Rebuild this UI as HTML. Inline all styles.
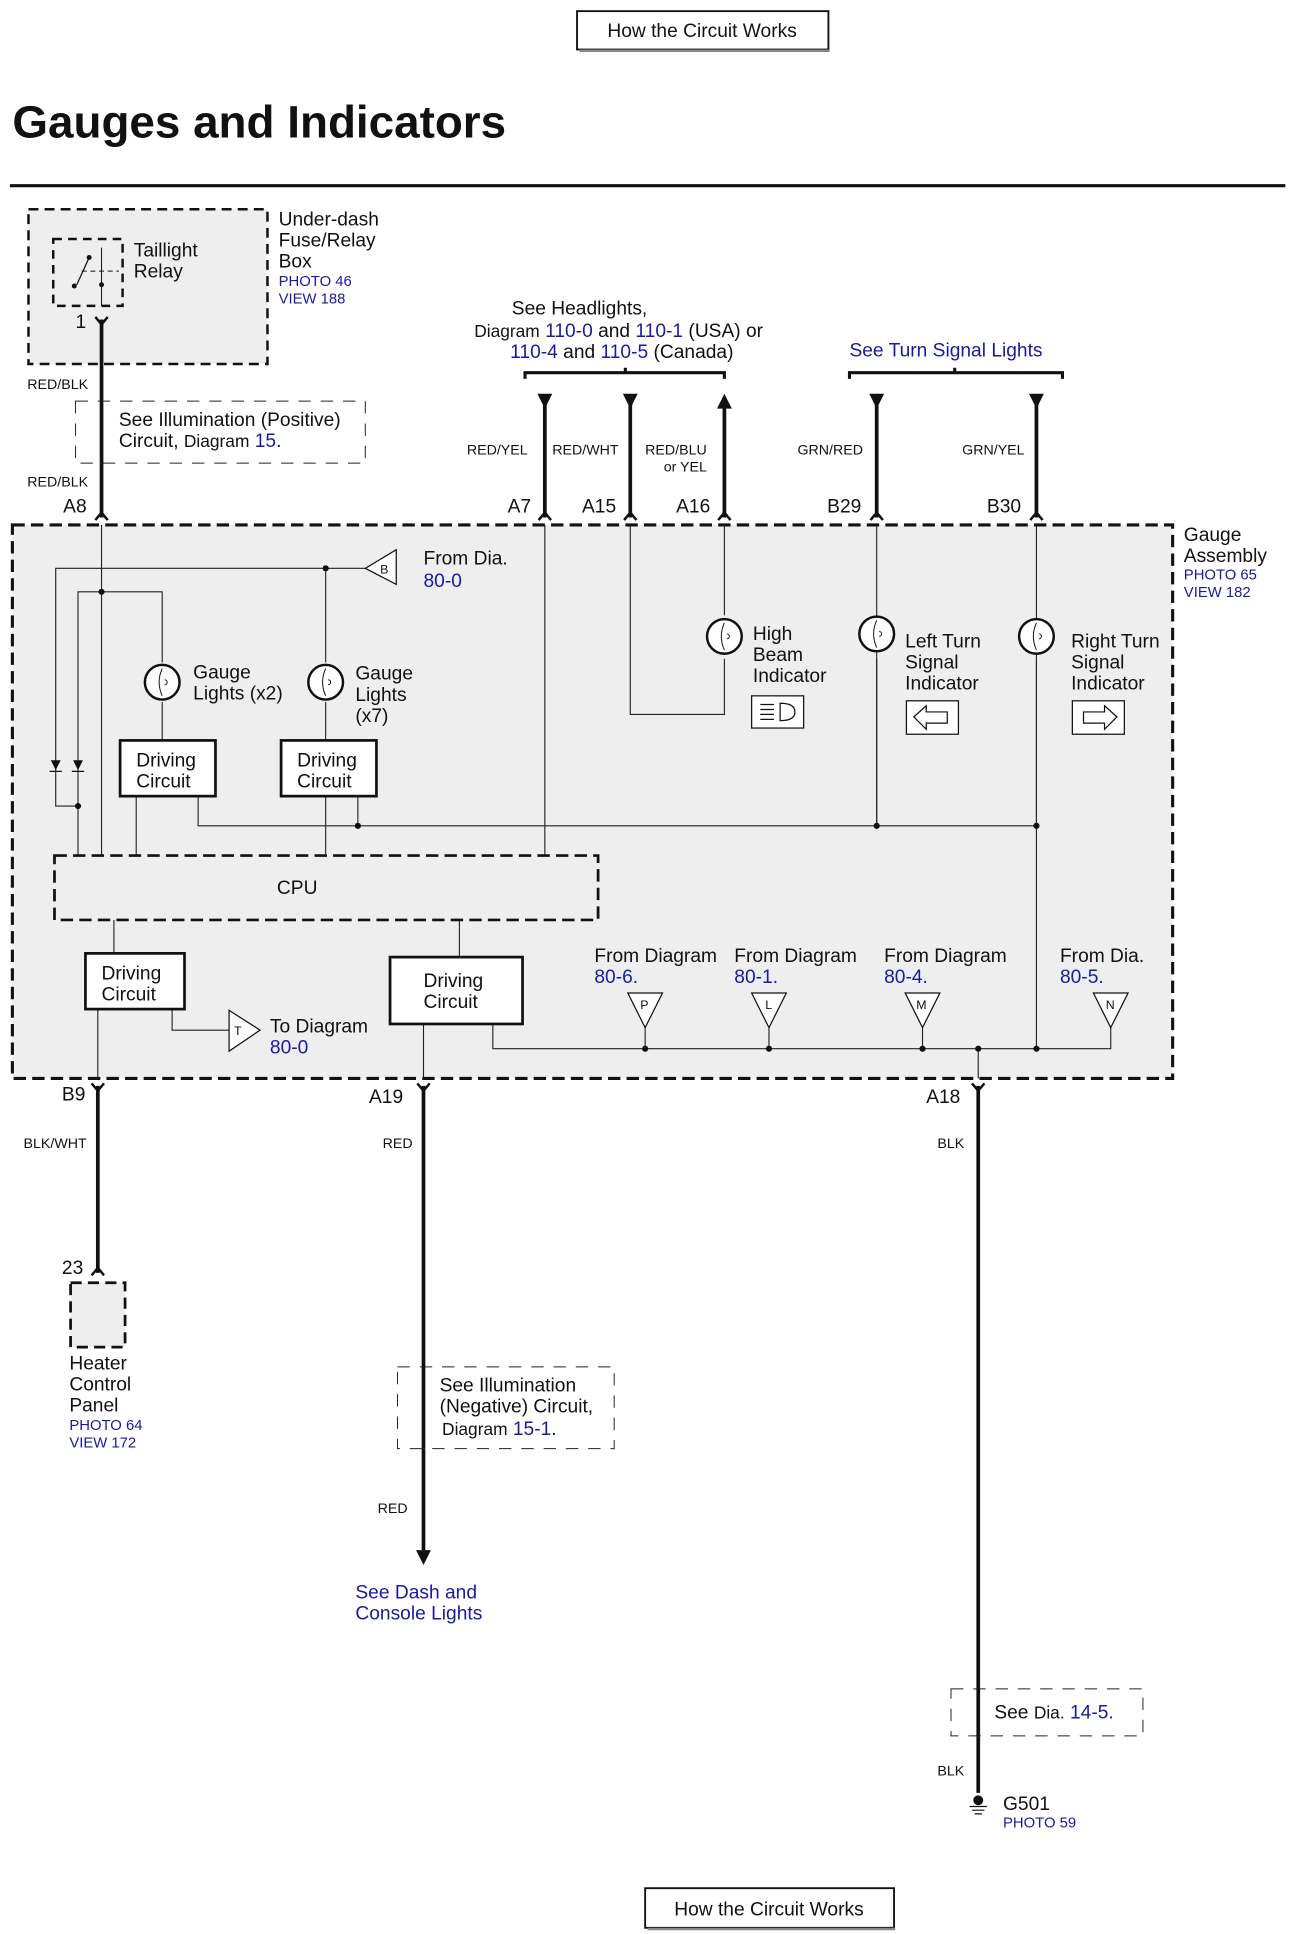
<!DOCTYPE html>
<html><head><meta charset="utf-8"><style>
html,body{margin:0;padding:0;background:#fff;}
svg{display:block;}
text{font-family:"Liberation Sans",Arial,sans-serif;fill:#111;}
.b{fill:#1a1aa0;}
.s{font-size:12px;}
.m{font-size:15.5px;}
.w{font-size:11.5px;}
</style></head><body>
<svg width="1294" height="1934" viewBox="0 0 1045 1562" preserveAspectRatio="none" xmlns="http://www.w3.org/2000/svg">
<!-- top button -->
<rect x="466" y="9" width="203" height="31" fill="#fff" stroke="#111" stroke-width="1.5"/>
<line x1="468" y1="41" x2="670" y2="41" stroke="#888" stroke-width="2"/>
<text x="567" y="30" class="m" text-anchor="middle">How the Circuit Works</text>
<!-- title -->
<text x="10" y="111" style="font-size:37px;font-weight:bold">Gauges and Indicators</text>
<line x1="8" y1="150" x2="1038" y2="150" stroke="#111" stroke-width="2.5"/>

<!-- fuse box -->
<rect x="23" y="169" width="193" height="125" fill="#eee" stroke="#111" stroke-width="2" stroke-dasharray="8,5"/>
<rect x="43" y="193" width="56" height="54" fill="none" stroke="#111" stroke-width="2" stroke-dasharray="7,5"/>
<line x1="82" y1="200" x2="82" y2="247" stroke="#111" stroke-width="0.8"/>
<line x1="72" y1="208" x2="62" y2="230" stroke="#111" stroke-width="1"/>
<circle cx="72" cy="208" r="2" fill="#111"/><circle cx="60" cy="231" r="2" fill="#111"/><circle cx="82" cy="230" r="2" fill="#111"/>
<line x1="66" y1="219" x2="96" y2="219" stroke="#111" stroke-width="0.8" stroke-dasharray="4,3"/>
<text x="108" y="207" class="m">Taillight</text><text x="108" y="224" class="m">Relay</text>
<text x="225" y="182" class="m">Under-dash</text><text x="225" y="199" class="m">Fuse/Relay</text><text x="225" y="216" class="m">Box</text>
<text x="225" y="231" class="s b">PHOTO 46</text><text x="225" y="245" class="s b">VIEW 188</text>
<text x="61" y="265" class="m">1</text>
<path d="M77,256 L82,262 L87,256" fill="none" stroke="#111" stroke-width="2"/>
<line x1="82" y1="258" x2="82" y2="418" stroke="#111" stroke-width="3"/>
<text x="22" y="314" class="w">RED/BLK</text>
<rect x="61" y="324" width="234" height="50" fill="#fff" stroke="#222" stroke-width="0.8" stroke-dasharray="10,8"/>
<line x1="82" y1="324" x2="82" y2="374" stroke="#111" stroke-width="3"/>
<text x="96" y="344" class="m">See Illumination (Positive)</text>
<text x="96" y="361" class="m">Circuit, <tspan style="font-size:14px">Diagram</tspan> <tspan class="b">15</tspan>.</text>
<text x="22" y="393" class="w">RED/BLK</text>
<text x="51" y="414" class="m">A8</text>
<path d="M77,420 L82,414 L87,420" fill="none" stroke="#111" stroke-width="2"/>

<!-- headlights text -->
<text x="468" y="254" class="m" text-anchor="middle">See Headlights,</text>
<text x="383" y="272" class="m"><tspan style="font-size:14px">Diagram</tspan> <tspan class="b">110-0</tspan> and <tspan class="b">110-1</tspan> (USA) or</text>
<text x="412" y="289" class="m"><tspan class="b">110-4</tspan> and <tspan class="b">110-5</tspan> (Canada)</text>
<path d="M424,306 L424,301 L585,301 L585,306 M505,301 L505,297" fill="none" stroke="#111" stroke-width="2.5"/>
<text x="686" y="288" class="m b">See Turn Signal Lights</text>
<path d="M686,306 L686,301 L858,301 L858,306 M771,301 L771,297" fill="none" stroke="#111" stroke-width="2.5"/>

<!-- top wires -->
<g stroke="#111" stroke-width="3">
<line x1="440" y1="325" x2="440" y2="418"/><line x1="509" y1="325" x2="509" y2="418"/><line x1="585" y1="328" x2="585" y2="418"/>
<line x1="708" y1="325" x2="708" y2="418"/><line x1="837" y1="325" x2="837" y2="418"/>
</g>
<g fill="#111">
<path d="M434,318 L446,318 L440,330z"/><path d="M503,318 L515,318 L509,330z"/><path d="M579,330 L591,330 L585,318z"/>
<path d="M702,318 L714,318 L708,330z"/><path d="M831,318 L843,318 L837,330z"/>
</g>
<text x="377" y="367" class="w">RED/YEL</text><text x="446" y="367" class="w">RED/WHT</text>
<text x="521" y="367" class="w">RED/BLU</text><text x="536" y="381" class="w">or YEL</text>
<text x="644" y="367" class="w">GRN/RED</text><text x="777" y="367" class="w">GRN/YEL</text>
<text x="410" y="414" class="m">A7</text><text x="470" y="414" class="m">A15</text><text x="546" y="414" class="m">A16</text>
<text x="668" y="414" class="m">B29</text><text x="797" y="414" class="m">B30</text>
<g fill="none" stroke="#111" stroke-width="2">
<path d="M435,420 L440,414 L445,420"/><path d="M504,420 L509,414 L514,420"/><path d="M580,420 L585,414 L590,420"/>
<path d="M703,420 L708,414 L713,420"/><path d="M832,420 L837,414 L842,420"/>
</g>

<!-- gauge assembly -->
<rect x="10" y="424" width="937" height="447" fill="#eee" stroke="#111" stroke-width="2.5" stroke-dasharray="10,5"/>
<text x="956" y="437" class="m">Gauge</text><text x="956" y="454" class="m">Assembly</text>
<text x="956" y="468" class="s b">PHOTO 65</text><text x="956" y="482" class="s b">VIEW 182</text>

<g stroke="#222" stroke-width="0.9" fill="none">
<line x1="82" y1="424" x2="82" y2="691"/>
<line x1="440" y1="424" x2="440" y2="691"/>
<path d="M509,424 L509,577 L585,577 L585,532"/>
<line x1="585" y1="424" x2="585" y2="497"/>
<line x1="708" y1="424" x2="708" y2="667"/>
<line x1="837" y1="424" x2="837" y2="847"/>
<path d="M295,459 L45,459 L45,651 L63,651"/>
<line x1="263" y1="459" x2="263" y2="535"/>
<path d="M63,691 L63,478 L131,478 L131,535"/>
<line x1="131" y1="567" x2="131" y2="598"/>
<line x1="263" y1="567" x2="263" y2="598"/>
<line x1="110" y1="643" x2="110" y2="691"/>
<line x1="263" y1="643" x2="263" y2="691"/>
<path d="M160,643 L160,667 L837,667"/>
<line x1="289" y1="643" x2="289" y2="667"/>
<line x1="708" y1="532" x2="708" y2="667"/>
<line x1="837" y1="532" x2="837" y2="667"/>
<line x1="92" y1="743" x2="92" y2="770"/>
<line x1="371" y1="743" x2="371" y2="773"/>
<line x1="79" y1="815" x2="79" y2="871"/>
<path d="M139,815 L139,832 L185,832"/>
<line x1="342" y1="827" x2="342" y2="871"/>
<path d="M398,827 L398,847 L897,847 L897,830"/>
<line x1="521" y1="830" x2="521" y2="847"/><line x1="621" y1="830" x2="621" y2="847"/><line x1="745" y1="830" x2="745" y2="847"/>
<line x1="790" y1="847" x2="790" y2="871"/>
</g>
<g fill="#111">
<circle cx="263" cy="459" r="2.5"/><circle cx="82" cy="478" r="2.5"/><circle cx="63" cy="651" r="2.5"/>
<circle cx="289" cy="667" r="2.5"/><circle cx="708" cy="667" r="2.5"/><circle cx="837" cy="667" r="2.5"/>
<circle cx="521" cy="847" r="2.5"/><circle cx="621" cy="847" r="2.5"/><circle cx="745" cy="847" r="2.5"/><circle cx="790" cy="847" r="2.5"/><circle cx="837" cy="847" r="2.5"/>
<path d="M41,614 L49,614 L45,622z"/><path d="M59,614 L67,614 L63,622z"/>
</g>
<line x1="40" y1="623" x2="50" y2="623" stroke="#111"/><line x1="58" y1="623" x2="68" y2="623" stroke="#111"/>
<path d="M320,444 L320,472 L295,459z" fill="#fff" stroke="#111"/>
<text x="307" y="463" style="font-size:10px">B</text>
<text x="342" y="456" class="m">From Dia.</text><text x="342" y="474" class="m b">80-0</text>
<g fill="#fff" stroke="#111" stroke-width="2">
<circle cx="131" cy="551" r="14"/><circle cx="263" cy="551" r="14"/>
<circle cx="585" cy="514" r="14"/><circle cx="708" cy="512" r="14"/><circle cx="837" cy="514" r="14"/>
</g>
<g fill="none" stroke="#111" stroke-width="0.8">
<path d="M131,540 q-5,11 0,22 M133,549 a2,2 0 1 1 0,4"/><path d="M263,540 q-5,11 0,22 M265,549 a2,2 0 1 1 0,4"/>
<path d="M585,503 q-5,11 0,22 M587,512 a2,2 0 1 1 0,4"/><path d="M708,501 q-5,11 0,22 M710,510 a2,2 0 1 1 0,4"/><path d="M837,503 q-5,11 0,22 M839,512 a2,2 0 1 1 0,4"/>
</g>
<text x="156" y="548" class="m">Gauge</text><text x="156" y="565" class="m">Lights (x2)</text>
<text x="287" y="549" class="m">Gauge</text><text x="287" y="566" class="m">Lights</text><text x="287" y="583" class="m">(x7)</text>
<text x="608" y="517" class="m">High</text><text x="608" y="534" class="m">Beam</text><text x="608" y="551" class="m">Indicator</text>
<text x="731" y="523" class="m">Left Turn</text><text x="731" y="540" class="m">Signal</text><text x="731" y="557" class="m">Indicator</text>
<text x="865" y="523" class="m">Right Turn</text><text x="865" y="540" class="m">Signal</text><text x="865" y="557" class="m">Indicator</text>
<rect x="607" y="562" width="42" height="26" fill="#fff" stroke="#111"/>
<path d="M630,568 q12,0 12,7 q0,7 -12,7 z M614,569 h11 M614,573 h11 M614,577 h11 M614,581 h11" fill="none" stroke="#111"/>
<rect x="732" y="566" width="42" height="27" fill="#fff" stroke="#111"/>
<path d="M738,579 L748,570 L748,575 L765,575 L765,584 L748,584 L748,589z" fill="#fff" stroke="#111"/>
<rect x="866" y="566" width="42" height="27" fill="#fff" stroke="#111"/>
<path d="M902,579 L892,570 L892,575 L875,575 L875,584 L892,584 L892,589z" fill="#fff" stroke="#111"/>
<g fill="#fff" stroke="#111" stroke-width="2.2">
<rect x="97" y="598" width="77" height="45"/><rect x="227" y="598" width="77" height="45"/>
<rect x="69" y="770" width="80" height="45"/><rect x="315" y="773" width="107" height="54"/>
</g>
<text x="110" y="619" class="m">Driving</text><text x="110" y="636" class="m">Circuit</text>
<text x="240" y="619" class="m">Driving</text><text x="240" y="636" class="m">Circuit</text>
<text x="82" y="791" class="m">Driving</text><text x="82" y="808" class="m">Circuit</text>
<text x="342" y="797" class="m">Driving</text><text x="342" y="814" class="m">Circuit</text>
<rect x="44" y="691" width="439" height="52" fill="none" stroke="#111" stroke-width="2.2" stroke-dasharray="10,5"/>
<text x="240" y="722" class="m" text-anchor="middle">CPU</text>
<path d="M185,816 L185,849 L210,832z" fill="#fff" stroke="#111"/>
<text x="189" y="836" style="font-size:10px">T</text>
<text x="218" y="834" class="m">To Diagram</text><text x="218" y="851" class="m b">80-0</text>
<g fill="#fff" stroke="#111">
<path d="M507,802 L535,802 L521,830z"/><path d="M607,802 L635,802 L621,830z"/><path d="M731,802 L759,802 L745,830z"/><path d="M883,802 L911,802 L897,830z"/>
</g>
<g style="font-size:10px"><text x="517" y="815">P</text><text x="618" y="815">L</text><text x="740" y="815">M</text><text x="893" y="815">N</text></g>
<text x="480" y="777" class="m">From Diagram</text><text x="480" y="794" class="m b">80-6.</text>
<text x="593" y="777" class="m">From Diagram</text><text x="593" y="794" class="m b">80-1.</text>
<text x="714" y="777" class="m">From Diagram</text><text x="714" y="794" class="m b">80-4.</text>
<text x="856" y="777" class="m">From Dia.</text><text x="856" y="794" class="m b">80-5.</text>

<g fill="none" stroke="#111" stroke-width="2">
<path d="M74,875 L79,881 L84,875"/><path d="M337,875 L342,881 L347,875"/><path d="M785,875 L790,881 L795,875"/>
<path d="M74,1030 L79,1024 L84,1030"/>
</g>
<g stroke="#111" stroke-width="3">
<line x1="79" y1="877" x2="79" y2="1028"/>
<line x1="342" y1="877" x2="342" y2="1252"/>
<line x1="790" y1="877" x2="790" y2="1448"/>
</g>
<path d="M336,1252 L348,1252 L342,1264z" fill="#111"/>
<text x="50" y="889" class="m">B9</text><text x="298" y="891" class="m">A19</text><text x="748" y="891" class="m">A18</text>
<text x="19" y="927" class="w">BLK/WHT</text><text x="309" y="927" class="w">RED</text><text x="757" y="927" class="w">BLK</text>
<text x="50" y="1029" class="m">23</text>
<rect x="57" y="1036" width="44" height="52" fill="#eee" stroke="#111" stroke-width="2.2" stroke-dasharray="9,5"/>
<text x="56" y="1106" class="m">Heater</text><text x="56" y="1123" class="m">Control</text><text x="56" y="1140" class="m">Panel</text>
<text x="56" y="1155" class="s b">PHOTO 64</text><text x="56" y="1169" class="s b">VIEW 172</text>
<rect x="321" y="1104" width="175" height="66" fill="#fff" stroke="#222" stroke-width="0.8" stroke-dasharray="10,8"/>
<line x1="342" y1="1104" x2="342" y2="1170" stroke="#111" stroke-width="3"/>
<text x="355" y="1124" class="m">See Illumination</text><text x="355" y="1141" class="m">(Negative) Circuit,</text>
<text x="357" y="1159" class="m"><tspan style="font-size:14px">Diagram</tspan> <tspan class="b">15-1</tspan>.</text>
<text x="305" y="1222" class="w">RED</text>
<text x="287" y="1291" class="m b">See Dash and</text><text x="287" y="1308" class="m b">Console Lights</text>
<rect x="768" y="1364" width="155" height="38" fill="#fff" stroke="#222" stroke-width="0.8" stroke-dasharray="10,8"/>
<line x1="790" y1="1364" x2="790" y2="1402" stroke="#111" stroke-width="3"/>
<text x="803" y="1388" class="m">See <tspan style="font-size:14px">Dia.</tspan> <tspan class="b">14-5.</tspan></text>
<text x="757" y="1434" class="w">BLK</text>
<circle cx="790" cy="1454" r="4" fill="#111"/>
<path d="M783,1459 h14 M785,1462 h10 M787,1465 h6" stroke="#111"/>
<text x="810" y="1462" class="m">G501</text><text x="810" y="1476" class="s b">PHOTO 59</text>
<rect x="521" y="1525" width="201" height="32" fill="#fff" stroke="#111" stroke-width="1.5"/>
<line x1="523" y1="1558" x2="723" y2="1558" stroke="#888" stroke-width="2"/>
<text x="621" y="1547" class="m" text-anchor="middle">How the Circuit Works</text>
</svg>
</body></html>
